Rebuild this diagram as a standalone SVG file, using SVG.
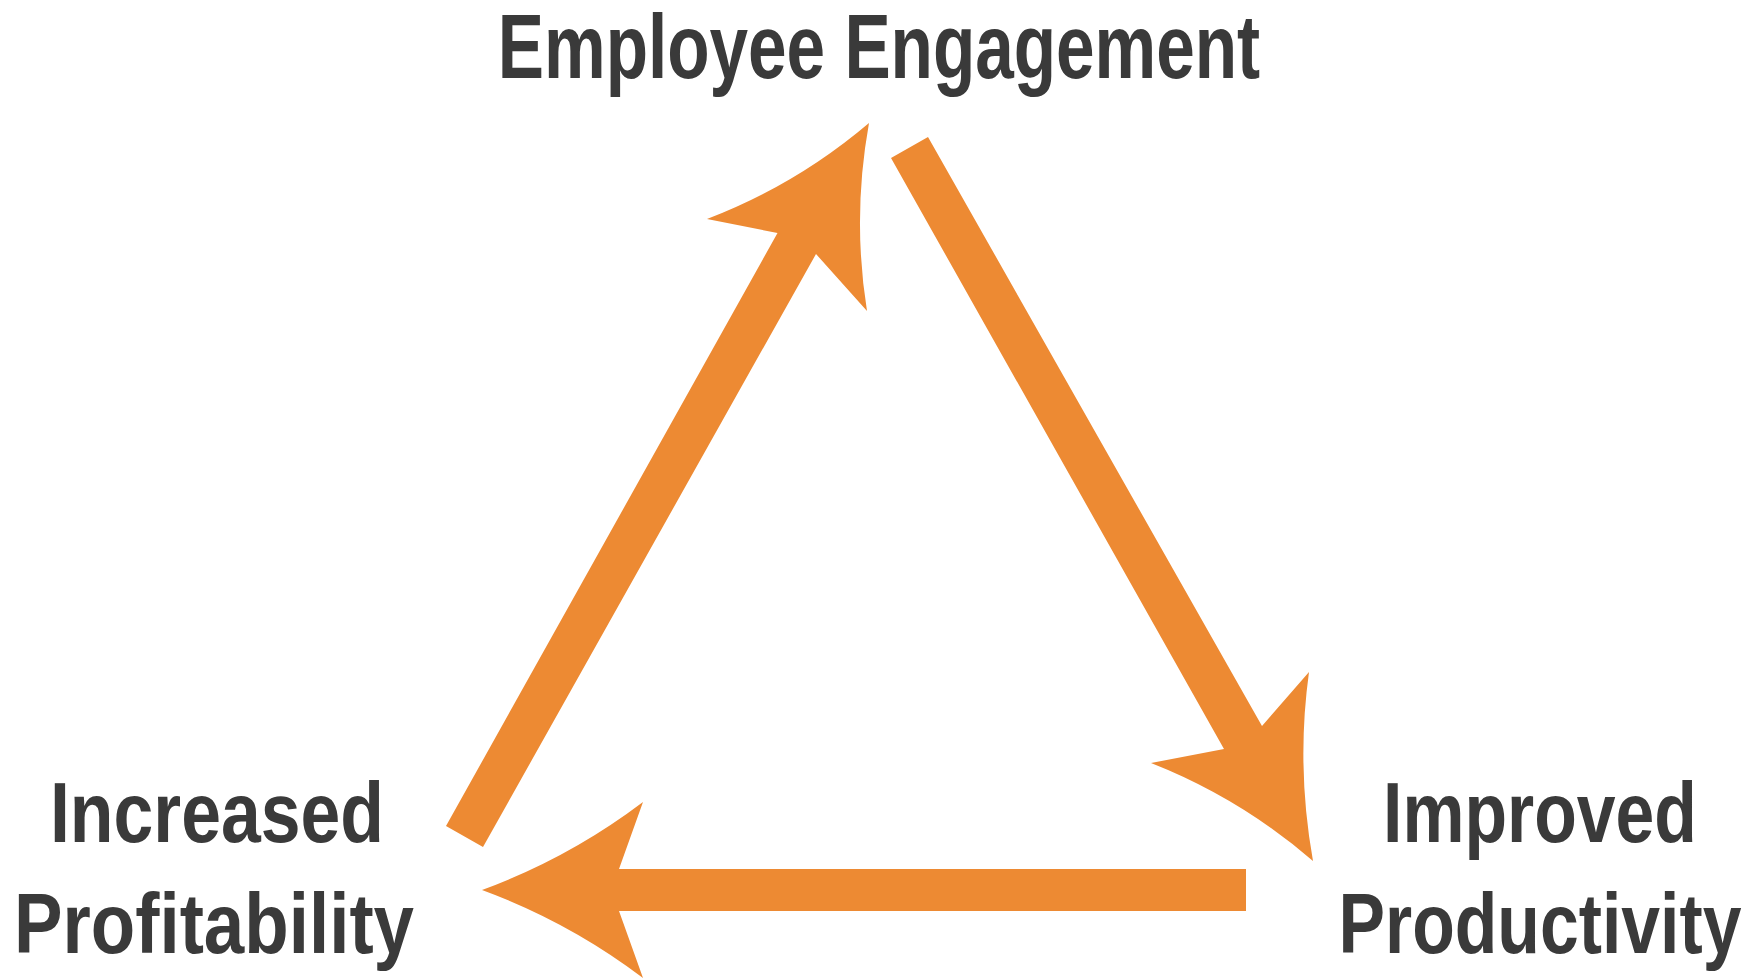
<svg xmlns="http://www.w3.org/2000/svg" width="1756" height="980" viewBox="0 0 1756 980">
<style>
.lbl{font-family:"Liberation Sans",Arial,sans-serif;font-weight:bold;fill:#3a3a3a;text-anchor:middle;font-variant-ligatures:none}
.arrow{fill:#ED8A33}
</style>
<rect width="1756" height="980" fill="#ffffff"/>
<g id="connectors">
<path class="arrow" d="M446,826 L777.5,233 L707,219 Q796,185 869,123 Q852,217 867,311 L816,254 L483,847 Z"/>
<path class="arrow" d="M891,158 L1224,749 L1151,763 Q1240,798 1313,861 Q1296,766 1309,672 L1262,726 L928,137 Z"/>
<path class="arrow" d="M1246,869 L619,869 L643,802 Q569,858 482,890 Q569,922 643,978 L619,911 L1246,911 Z"/>
</g>
<g id="node-engagement">
<text class="lbl" transform="translate(879,78) scale(0.77,1)" x="0" y="0" font-size="90">Employee Engagement</text>
</g>
<g id="node-productivity">
<text class="lbl" transform="translate(1540,842) scale(0.811,1)" x="0" y="0" font-size="86">Improved</text>
<text class="lbl" transform="translate(1540,953) scale(0.811,1)" x="0" y="0" font-size="86">Productivity</text>
</g>
<g id="node-profitability">
<text class="lbl" transform="translate(217,842) scale(0.832,1)" x="0" y="0" font-size="86">Increased</text>
<text class="lbl" transform="translate(214,953) scale(0.846,1)" x="0" y="0" font-size="86">Profitability</text>
</g>
</svg>
